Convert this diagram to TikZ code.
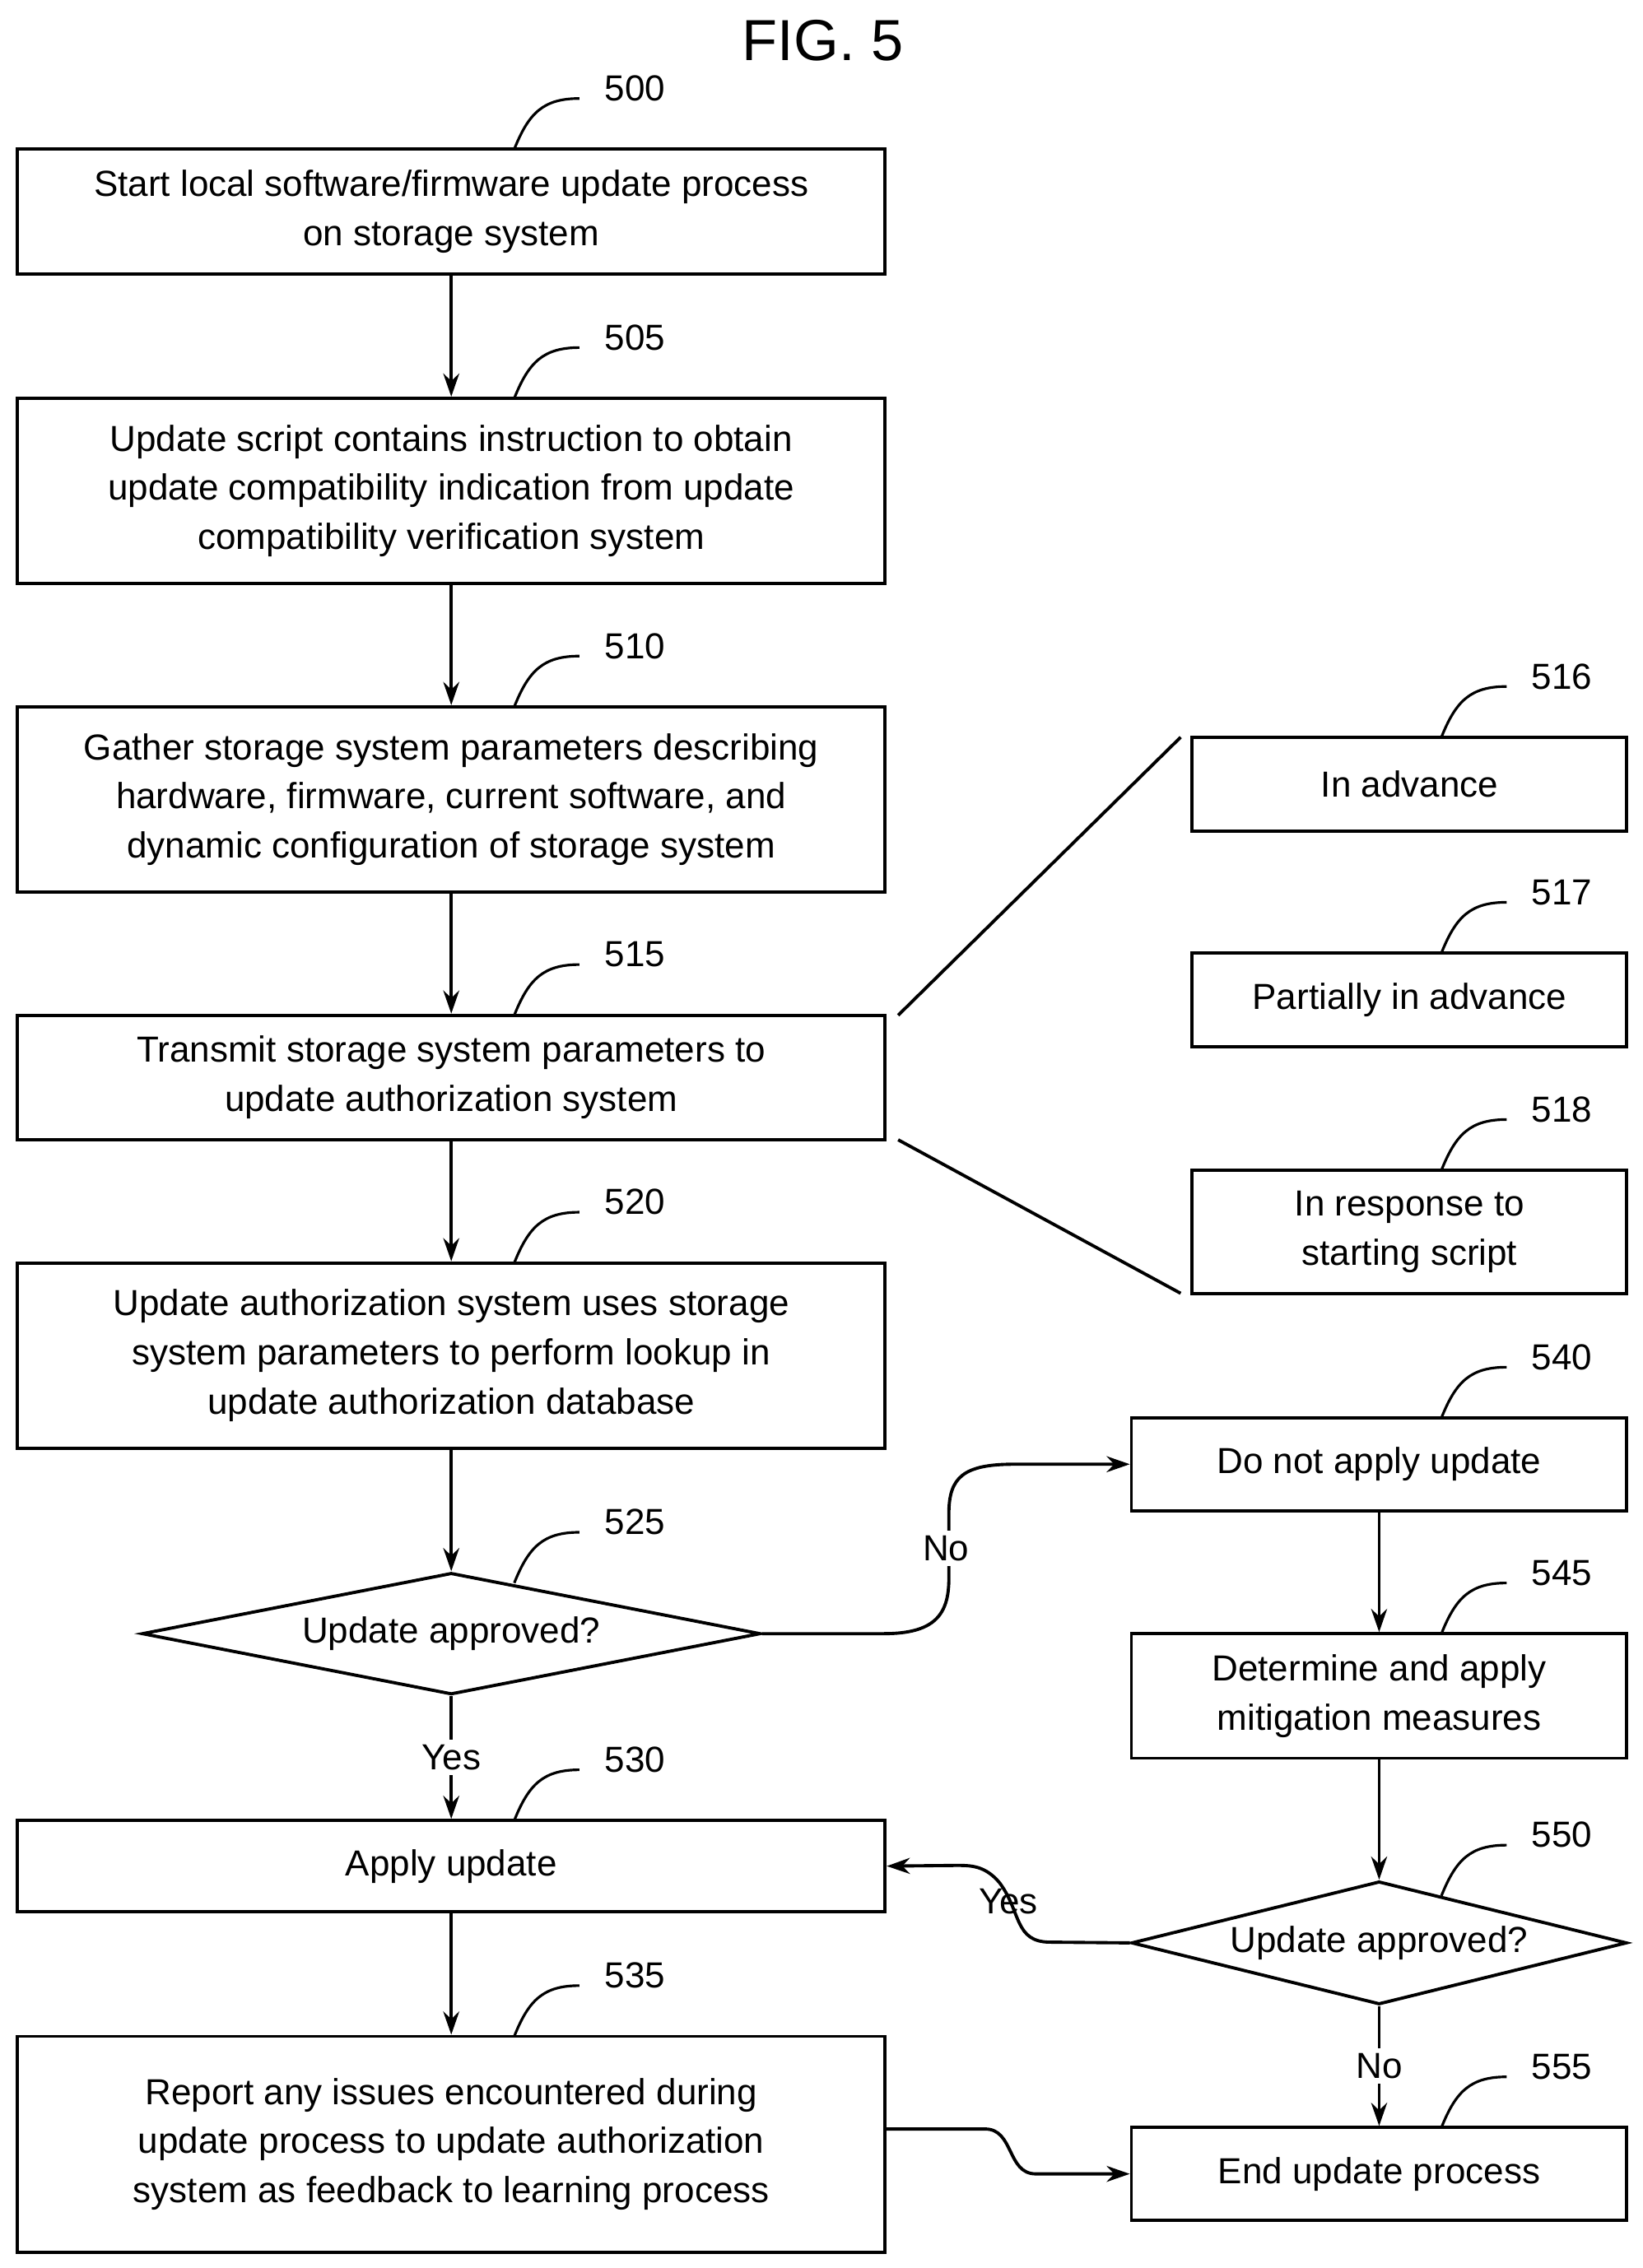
\documentclass[tikz,border=0pt]{standalone}
\usepackage{fontspec}
\setmainfont{Liberation Sans}
\usetikzlibrary{shapes.geometric,arrows.meta}
\begin{document}
\begin{tikzpicture}[x=1pt,y=1pt,line width=2.2pt,
  box/.style={draw,rectangle,align=center,font=\fontsize{25}{34}\selectfont,inner sep=0pt},
  dia/.style={draw,diamond,aspect=5,inner sep=0pt,font=\fontsize{25}{34}\selectfont},
  arr/.style={-{Stealth[length=16pt,width=11pt]}},
  num/.style={font=\fontsize{25}{30}\selectfont},
  lab/.style={font=\fontsize{25}{30}\selectfont}]
\useasboundingbox (0,0) rectangle (1134,-1566);
\newcommand{\lbl}[4]{\draw[line width=1.8pt] (#1,-#2) .. controls (#1+10,-#2+25) and (#1+20,-#2+35) .. (#1+45,-#2+35);
  \node[num,anchor=west] (#4) at (#1+58,-#2+42) {#3};}
\node[font=\fontsize{40}{40}\selectfont] (title) at (568,-28) {FIG. 5};
\node[box,minimum width=599,minimum height=86] (b500) at (311.5,-146) {Start local software/firmware update process\\on storage system};
\node[box,minimum width=599,minimum height=128] (b505) at (311.5,-339) {Update script contains instruction to obtain\\update compatibility indication from update\\compatibility verification system};
\node[box,minimum width=599,minimum height=128] (b510) at (311.5,-552) {Gather storage system parameters describing\\hardware, firmware, current software, and\\dynamic configuration of storage system};
\node[box,minimum width=599,minimum height=86] (b515) at (311.5,-744) {Transmit storage system parameters to\\update authorization system};
\node[box,minimum width=599,minimum height=128] (b520) at (311.5,-936) {Update authorization system uses storage\\system parameters to perform lookup in\\update authorization database};
\node[dia,minimum width=427,minimum height=84] (d525) at (311.5,-1128) {Update approved?};
\node[box,minimum width=599,minimum height=63] (b530) at (311.5,-1288.5) {Apply update};
\node[box,minimum width=599,minimum height=149] (b535) at (311.5,-1480.5) {Report any issues encountered during\\update process to update authorization\\system as feedback to learning process};
\node[box,minimum width=300,minimum height=65] (b516) at (973,-541.5) {In advance};
\node[box,minimum width=300,minimum height=65] (b517) at (973,-690.5) {Partially in advance};
\node[box,minimum width=300,minimum height=85] (b518) at (973,-850.5) {In response to\\starting script};
\node[box,minimum width=342,minimum height=64] (b540) at (952,-1011) {Do not apply update};
\node[box,minimum width=342,minimum height=86] (b545) at (952,-1171) {Determine and apply\\mitigation measures};
\node[dia,minimum width=342,minimum height=85] (d550) at (952,-1341.5) {Update approved?};
\node[box,minimum width=342,minimum height=64] (b555) at (952,-1501) {End update process};
\lbl{355}{103}{500}{n500}
\lbl{355}{275}{505}{n505}
\lbl{355}{488}{510}{n510}
\lbl{355}{701}{515}{n515}
\lbl{355}{872}{520}{n520}
\lbl{355}{1093}{525}{n525}
\lbl{355}{1257}{530}{n530}
\lbl{355}{1406}{535}{n535}
\lbl{995}{509}{516}{n516}
\lbl{995}{658}{517}{n517}
\lbl{995}{808}{518}{n518}
\lbl{995}{979}{540}{n540}
\lbl{995}{1128}{545}{n545}
\lbl{995}{1309}{550}{n550}
\lbl{995}{1469}{555}{n555}
\draw[arr] (b500) -- (b505);
\draw[arr] (b505) -- (b510);
\draw[arr] (b510) -- (b515);
\draw[arr] (b515) -- (b520);
\draw[arr] (b520) -- (d525);
\draw[arr] (d525) -- node[lab,fill=white,pos=0.5]{Yes} (b530);
\draw[arr] (b530) -- (b535);
\draw[arr] (b540) -- (b545);
\draw[arr] (b545) -- (d550);
\draw[arr] (d550) -- node[lab,fill=white,pos=0.5]{No} (b555);
\coordinate (p515a) at (620,-701);
\coordinate (p515b) at (620,-787);
\coordinate (q516) at (815,-509);
\coordinate (q518) at (815,-893);
\draw (p515a) -- (q516);
\draw (p515b) -- (q518);
\draw[arr] (d525.east) -- (610,-1128) .. controls (645,-1128) and (655,-1115) .. (655,-1090) -- (655,-1045) .. controls (655,-1020) and (665,-1011) .. (700,-1011) -- (b540.west);
\node[lab,fill=white] (no1) at (653,-1069) {No};
\draw[arr] (d550.west) -- (725,-1341) .. controls (700,-1341) and (705,-1320) .. (690,-1300) .. controls (680,-1288) and (670,-1288) .. (660,-1288) -- (b530.east);
\node[lab] (yes2) at (696,-1313) {Yes};
\draw[arr] (b535.east |- 0,-1470) -- (680,-1470) .. controls (700,-1470) and (695,-1501) .. (715,-1501) -- (b555.west);
\end{tikzpicture}
\end{document}
